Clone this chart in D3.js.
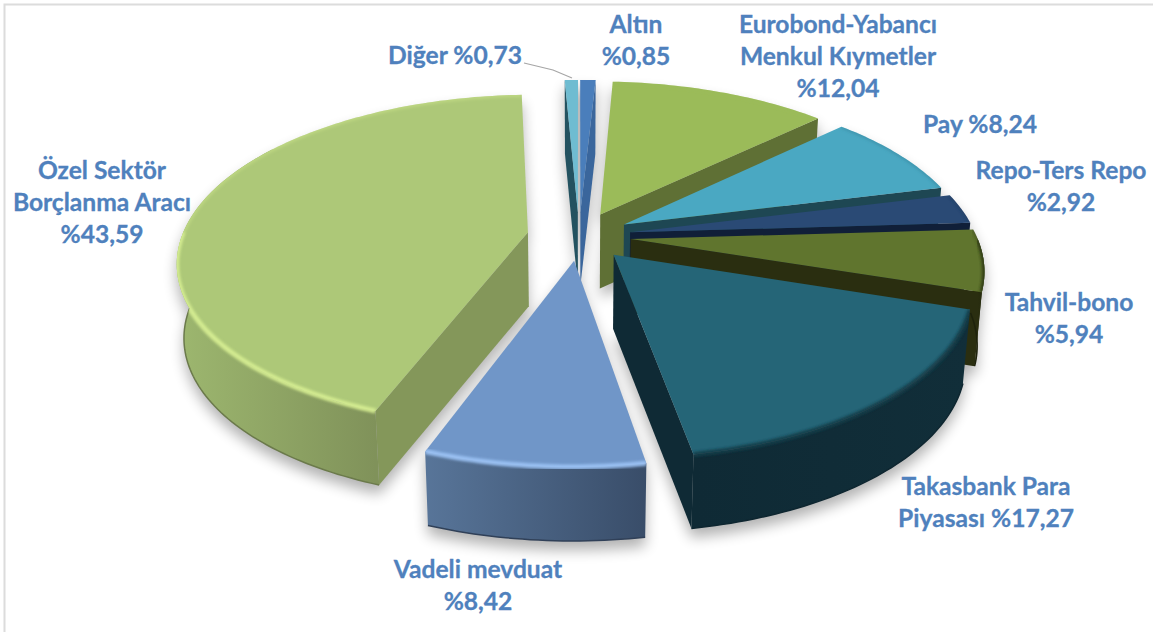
<!DOCTYPE html>
<html>
<head>
<meta charset="utf-8">
<style>
  html, body { margin: 0; padding: 0; background: #fff; }
  svg { display: block; }
  .label { font-family: Lato, "Open Sans", sans-serif; font-weight: 700; font-size: 24.6px; fill: #4f81bd; stroke: #4f81bd; stroke-width: 0.3px; text-anchor: middle; }
</style>
<script src="https://cdn.jsdelivr.net/npm/d3@7"></script>
</head>
<body>
<div id="chart"></div>
<script>
// values clockwise from 12 o'clock
const categories = ["Altın", "Eurobond-Yabancı Menkul Kıymetler", "Pay", "Repo-Ters Repo", "Tahvil-bono",
  "Takasbank Para Piyasası", "Vadeli mevduat", "Özel Sektör Borçlanma Aracı", "Diğer"];
const shares = [0.85, 12.04, 8.24, 2.92, 5.94, 17.27, 8.42, 43.59, 0.73];

const top_colors = ["#4a7ebb", "#9bbb59", "#4aa8c2", "#2a4a75", "#60752e", "#256577", "#7096c8", "#adc878", "#6fbcd1"];
const wall_colors = [["#3a669c", "#3a669c"], ["#5f7035", "#5f7035"], ["#1e4753", "#1e4753"], ["#101f38", "#101f38"],
  ["#2a2e10", "#24290e"], ["#0f2a35", "#112e39"], ["#587599", "#394d69"], ["#9db76f", "#80925a"], ["#235260", "#235260"]];
const radial_wall_colors = ["#3a669c", "#5f7035", "#1e4753", "#101f38", "#2a2e10", "#0f2a35", "#394d69", "#84975a", "#235260"];
const rim_colors = ["#4a7ebb", "#9bbb59", "#2f7d94", "#1d3557", "#2f3a14", "#123d4a", "#9cc3f5", "#d6ee92", "#6fbcd1"];

// label text lines ("{v}" is the share), and where each block is centred
const label_lines = [["Altın", "%{v}"], ["Eurobond-Yabancı", "Menkul Kıymetler", "%{v}"], ["Pay %{v}"],
  ["Repo-Ters Repo", "%{v}"], ["Tahvil-bono", "%{v}"], ["Takasbank Para", "Piyasası %{v}"], ["Vadeli mevduat", "%{v}"],
  ["Özel Sektör", "Borçlanma Aracı", "%{v}"], ["Diğer %{v}"]];
const label_x = [636, 838, 980, 1061, 1069, 986, 478, 102, 455];
const label_y = [33, 33, 133, 179, 311, 495, 578, 179, 64];

const WIDTH = 1153,
  HEIGHT = 632,
  CENTER_X = 579,
  CENTER_Y = 236,
  RADIUS_X = 346,
  RADIUS_Y = 162,
  PERSPECTIVE = 0.1686,
  EXPLODE = 0.15,
  DEPTH = 74,
  BOTTOM_SCALE = 0.982,
  LINE_HEIGHT = 32;

var svg = d3.select("#chart").append("svg").attr("width", WIDTH).attr("height", HEIGHT);
var defs = svg.append("defs");

defs.append("filter").attr("id", "soft").attr("x", "-20%").attr("y", "-20%").attr("width", "140%").attr("height", "140%")
  .append("feGaussianBlur").attr("stdDeviation", 7);
defs.append("filter").attr("id", "rim").attr("x", "-10%").attr("y", "-10%").attr("width", "120%").attr("height", "120%")
  .append("feGaussianBlur").attr("stdDeviation", 1.4);

// frame of the original picture
svg.append("path").attr("d", "M4.5,632V4.5H1153").attr("fill", "none").attr("stroke", "#dcdcdc").attr("stroke-width", 2);

function project(gx, gy) {
  /* ground plane (radius units, y towards the viewer) to screen */
  var p = 1 / (1 - PERSPECTIVE * gy);
  return [CENTER_X + gx * p * RADIUS_X, CENTER_Y + gy * p * RADIUS_Y];
}

function drop(pts) {
  // the lower face sits DEPTH below and is a little narrower
  return pts.map(function(q) { return [CENTER_X + (q[0] - CENTER_X) * BOTTOM_SCALE, q[1] + DEPTH]; });
}

var slices = d3.pie().sort(null).value(function(d) { return d; })(shares).map(function(s, i) {
  var mid = (s.startAngle + s.endAngle) / 2;
  var ox = EXPLODE * Math.sin(mid), oy = -EXPLODE * Math.cos(mid);
  function at(a) { return project(ox + Math.sin(a), oy - Math.cos(a)); }
  function arc_points(a0, a1) {
    var n = Math.max(2, Math.ceil((a1 - a0) / 0.02));
    return d3.range(n + 1).map(function(k) { return at(a0 + (a1 - a0) * k / n); });
  }
  return {
    index: i,
    start: s.startAngle,
    end: s.endAngle,
    depth_key: -Math.cos(mid),
    apex: project(ox, oy),
    arc_points: arc_points
  };
});

var line = d3.line();

function closed(pts) { return line(pts) + "Z"; }

function wall(pts) { return closed(pts.concat(drop(pts).reverse())); }

// soft shadow under the whole pie
var shadow = svg.append("g").attr("filter", "url(#soft)").attr("opacity", 0.3).attr("transform", "translate(0,9)");
slices.forEach(function(s) {
  var pts = [s.apex].concat(s.arc_points(s.start, s.end));
  shadow.append("path").attr("d", closed(pts)).attr("fill", "#000");
  shadow.append("path").attr("d", wall(s.arc_points(s.start, s.end))).attr("fill", "#000");
  shadow.append("path").attr("d", closed(drop(pts))).attr("fill", "#000");
});

// back to front
var pie_group = svg.append("g");
slices.slice().sort(function(a, b) { return a.depth_key - b.depth_key; }).forEach(function(s) {
  var i = s.index, g = pie_group.append("g").attr("class", "slice");
  var rim_pts = s.arc_points(s.start, s.end);
  var top_pts = [s.apex].concat(rim_pts);

  // radial walls that face the viewer
  if (Math.sin(s.start) < 0) {
    g.append("path").attr("d", wall([s.apex, rim_pts[0]])).attr("fill", radial_wall_colors[i]);
  }
  if (Math.sin(s.end) > 0) {
    g.append("path").attr("d", wall([s.apex, rim_pts[rim_pts.length - 1]])).attr("fill", radial_wall_colors[i]);
  }

  // outer wall, front half only. On the left it runs on past 270 degrees,
  // the narrower lower face would leave a notch in the outline otherwise
  var a0 = Math.max(s.start, Math.PI / 2), a1 = Math.min(s.end, 3 * Math.PI / 2);
  var clip_d = closed(top_pts);
  if (a1 > a0) {
    var wall_pts = s.arc_points(a0, Math.min(s.end, a1 + 0.6));
    var front_pts = s.arc_points(a0, a1);
    var xs = d3.extent(front_pts, function(q) { return q[0]; });
    var grad = defs.append("linearGradient").attr("id", "wall" + i).attr("gradientUnits", "userSpaceOnUse")
      .attr("x1", xs[0]).attr("x2", xs[1]).attr("y1", 0).attr("y2", 0);
    grad.append("stop").attr("offset", 0).attr("stop-color", wall_colors[i][0]);
    grad.append("stop").attr("offset", 1).attr("stop-color", wall_colors[i][1]);
    g.append("path").attr("d", wall(wall_pts)).attr("fill", "url(#wall" + i + ")");
    // thin dark line where the wall meets the lower face
    g.append("path").attr("d", line(drop(front_pts))).attr("fill", "none")
      .attr("stroke", d3.color(wall_colors[i][1]).darker(0.5)).attr("stroke-width", 1.5);
    clip_d += wall(wall_pts);
  }

  g.append("path").attr("d", closed(top_pts)).attr("fill", top_colors[i]);

  // bevel along the top edge, strong on the front half, faint on the back
  defs.append("clipPath").attr("id", "clip" + i).append("path").attr("d", clip_d);
  var bevel = g.append("g").attr("clip-path", "url(#clip" + i + ")");
  bevel.append("path").attr("d", line(rim_pts)).attr("fill", "none")
    .attr("stroke", rim_colors[i]).attr("stroke-width", 4).attr("stroke-opacity", 0.4).attr("filter", "url(#rim)");
  if (a1 > a0) {
    bevel.append("path").attr("d", line(s.arc_points(a0, a1))).attr("fill", "none")
      .attr("stroke", rim_colors[i]).attr("stroke-width", 4).attr("filter", "url(#rim)");
  }
});

// leader line for the smallest slice
svg.append("path").attr("d", line([[524, 63], [553, 70], [572, 78]])).attr("fill", "none").attr("stroke", "#a6a6a6").attr("stroke-width", 1.2);

function format_share(v) { return v.toFixed(2).replace(".", ","); }

categories.forEach(function(name, i) {
  var text = svg.append("text").attr("class", "label").attr("x", label_x[i]).attr("y", label_y[i]);
  label_lines[i].forEach(function(txt, k) {
    text.append("tspan").attr("x", label_x[i]).attr("dy", k ? LINE_HEIGHT : 0).text(txt.replace("{v}", format_share(shares[i])));
  });
});
</script>
</body>
</html>
